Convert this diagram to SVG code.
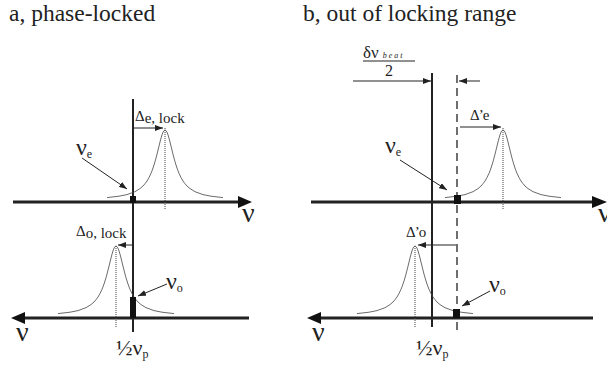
<svg xmlns="http://www.w3.org/2000/svg" width="607" height="369" viewBox="0 0 607 369" font-family="'Liberation Serif', 'Times New Roman', serif">
<style>
text{font-family:'Liberation Serif','Times New Roman',serif;fill:#222}
.title{font-size:23.5px}
.nu{font-size:28px}
.nul{font-size:24px}
.sub{font-size:12px}
.dl{font-size:15px}
.axis{stroke:#222;stroke-width:3;fill:none}
.vert{stroke:#222;stroke-width:2;fill:none}
.dash{stroke:#222;stroke-width:1.3;stroke-dasharray:8,5;fill:none}
.dot{stroke:#444;stroke-width:1;stroke-dasharray:1,1;fill:none}
.thin{stroke:#222;stroke-width:1;fill:none}
.lor{stroke:#444;stroke-width:0.8;fill:none}
.blk{fill:#111}
</style>
<defs>
<marker id="ah" markerUnits="userSpaceOnUse" markerWidth="9" markerHeight="6" refX="8" refY="3" orient="auto">
<path d="M0,0 L8,3 L0,6 z" fill="#222"/>
</marker>
<path id="lor" d="M-58,-2.4 L-46,-3.8 L-38,-5.4 L-30,-8.3 L-25,-11.4 L-22,-14 L-20,-16.3 L-18,-19 L-16,-22.5 L-14,-26.7 L-13,-29.2 L-12,-32 L-11,-35 L-10,-38.3 L-9,-41.9 L-8,-45.8 L-7,-49.8 L-6,-53.9 L-5,-58 L-4,-61.8 L-3,-65.2 L-2,-67.8 L-1,-69.4 L0,-70 L1,-69.4 L2,-67.8 L3,-65.2 L4,-61.8 L5,-58 L6,-53.9 L7,-49.8 L8,-45.8 L9,-41.9 L10,-38.3 L11,-35 L12,-32 L13,-29.2 L14,-26.7 L16,-22.5 L18,-19 L20,-16.3 L22,-14 L25,-11.4 L30,-8.3 L38,-5.4 L46,-3.8 L58,-2.4"/>
</defs>

<g id="panel-a">
<text class="title" x="9" y="21">a, phase-locked</text>
</g>
<g id="panel-b">
<text class="title" x="303" y="21">b, out of locking range</text>
</g>

<g id="axes">
<line class="vert" x1="133" y1="99" x2="133" y2="332"/>
<line class="axis" x1="13" y1="202" x2="240" y2="202"/>
<polygon class="blk" points="238,196 252,202 238,208"/>
<line class="axis" x1="22" y1="318" x2="249" y2="318"/>
<polygon class="blk" points="25,312 11,318 25,324"/>

<line class="vert" x1="432" y1="73" x2="432" y2="327"/>
<line class="dash" x1="457" y1="75" x2="457" y2="332"/>
<line class="axis" x1="311" y1="202" x2="594" y2="202"/>
<polygon class="blk" points="592,196 607,202 592,208"/>
<line class="axis" x1="317" y1="318" x2="593" y2="318"/>
<polygon class="blk" points="321,312 307,318 321,324"/>
</g>

<g id="curves">
<use href="#lor" class="lor" transform="translate(165,200)"/>
<use href="#lor" class="lor" transform="translate(116,316)"/>
<use href="#lor" class="lor" transform="translate(503,200)"/>
<use href="#lor" class="lor" transform="translate(415,316)"/>
<line class="dot" x1="165" y1="128" x2="165" y2="209"/>
<line class="dot" x1="116" y1="246" x2="116" y2="328"/>
<line class="dot" x1="503" y1="128" x2="503" y2="209"/>
<line class="dot" x1="415" y1="246" x2="415" y2="328"/>
</g>

<g id="markers">
<rect class="blk" x="130" y="196" width="6" height="7"/>
<rect class="blk" x="130" y="297" width="6" height="21"/>
<rect class="blk" x="454" y="195" width="7" height="9"/>
<rect class="blk" x="453" y="309" width="7" height="9"/>
</g>

<g id="connectors">
<line class="thin" x1="134" y1="128" x2="163" y2="128" marker-end="url(#ah)"/>
<line class="thin" x1="82" y1="158" x2="127" y2="189" marker-end="url(#ah)"/>
<line class="thin" x1="132" y1="245" x2="118" y2="245" marker-end="url(#ah)"/>
<line class="thin" x1="167" y1="284" x2="138" y2="296" marker-end="url(#ah)"/>
<line class="thin" x1="353" y1="81" x2="431" y2="81" marker-end="url(#ah)"/>
<line class="thin" x1="480" y1="81" x2="459" y2="81" marker-end="url(#ah)"/>
<line class="thin" x1="460" y1="127" x2="501" y2="127" marker-end="url(#ah)"/>
<line class="thin" x1="400" y1="160" x2="447" y2="190" marker-end="url(#ah)"/>
<line class="thin" x1="456" y1="245" x2="418" y2="245" marker-end="url(#ah)"/>
<line class="thin" x1="490" y1="291" x2="462" y2="306" marker-end="url(#ah)"/>
<line class="thin" x1="363" y1="61" x2="415" y2="61"/>
</g>

<g id="labels">
<text class="nu" x="242" y="222">ν</text>
<text class="nu" x="16" y="341">ν</text>
<text class="nu" x="598" y="222">ν</text>
<text class="nu" x="312" y="341">ν</text>

<text class="nul" x="76" y="155">ν<tspan class="sub" dy="3">e</tspan></text>
<text class="nul" x="166" y="289">ν<tspan class="sub" dy="3">o</tspan></text>
<text class="nul" x="385" y="153">ν<tspan class="sub" dy="3">e</tspan></text>
<text class="nul" x="489" y="292">ν<tspan class="sub" dy="3">o</tspan></text>

<text class="dl" x="135" y="121">Δ<tspan dy="2">e, lock</tspan></text>
<text class="dl" x="76" y="236">Δ<tspan dy="2">o, lock</tspan></text>
<text class="dl" x="470" y="120" letter-spacing="-1">Δ’e</text>
<text class="dl" x="406" y="237" letter-spacing="-1">Δ’o</text>

<text font-size="22" x="116" y="355">½ν<tspan class="sub" dy="3">p</tspan></text>
<text font-size="22" x="416" y="355">½ν<tspan class="sub" dy="3">p</tspan></text>

<text font-size="17" x="363" y="58">δν<tspan font-size="8" font-style="italic" letter-spacing="2" dx="4">beat</tspan></text>
<text font-size="16" x="385" y="76">2</text>
</g>
</svg>
